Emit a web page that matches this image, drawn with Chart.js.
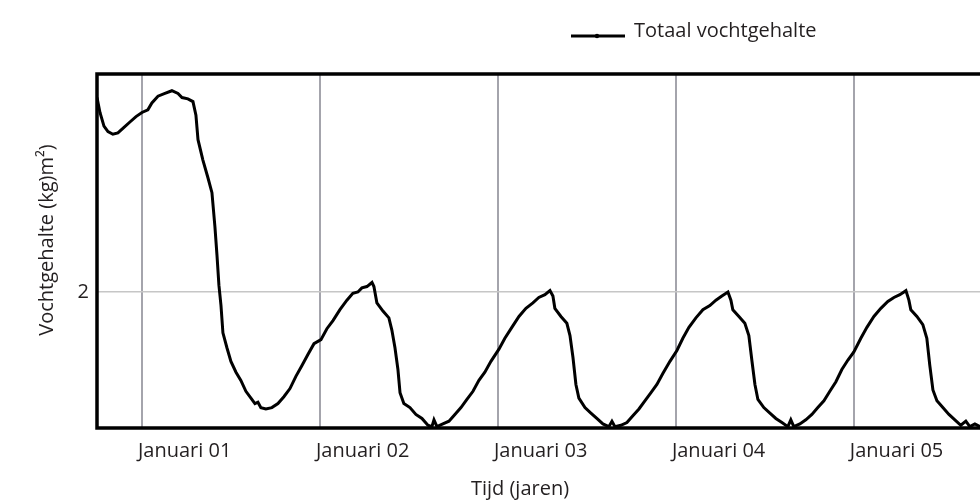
<!DOCTYPE html>
<html>
<head>
<meta charset="utf-8">
<script src="https://cdn.jsdelivr.net/npm/chart.js@4.4.1/dist/chart.umd.min.js"></script>
<style>
  html, body { margin: 0; padding: 0; background: #fff; overflow: hidden; }
  #wrap { width: 1010px; height: 502px; }
</style>
</head>
<body>
<div id="wrap"><canvas id="myChart"></canvas></div>
<script>
// time in months since "Januari 01"
const months = [
  -3.03, -2.83, -2.56, -2.29, -1.96, -1.62, -1.21, -0.81, -0.40, 0.00, 0.40, 0.67, 1.08, 1.55, 2.02, 2.43,
  2.70, 3.10, 3.44, 3.64, 3.78, 4.11, 4.45, 4.72, 4.92, 5.06, 5.19, 5.33, 5.46, 5.73, 6.00, 6.34,
  6.67, 7.01, 7.35, 7.62, 7.82, 8.02, 8.36, 8.76, 9.17, 9.57, 9.98, 10.38, 10.79, 11.19, 11.60, 12.07,
  12.47, 12.88, 13.35, 13.82, 14.22, 14.56, 14.83, 15.17, 15.51, 15.64, 15.84, 16.25, 16.65, 16.85, 17.06, 17.26, 17.40,
  17.66, 18.07, 18.47, 18.88, 19.28, 19.55, 19.69, 19.89, 20.29, 20.70, 21.10, 21.51, 21.91, 22.32, 22.72, 23.12, 23.53, 24.07,
  24.47, 24.94, 25.42, 25.89, 26.36, 26.76, 27.17, 27.51, 27.71, 27.84, 28.25, 28.65, 28.86, 29.06, 29.26, 29.46,
  29.87, 30.27, 30.67, 31.08, 31.48, 31.69, 31.89, 32.29, 32.70, 33.10, 33.51, 33.91, 34.32, 34.72, 35.12, 35.60, 36.07,
  36.47, 36.88, 37.35, 37.82, 38.29, 38.70, 39.10, 39.51, 39.71, 39.84, 40.25, 40.65, 40.92, 41.12, 41.33, 41.53,
  41.93, 42.34, 42.74, 43.15, 43.55, 43.75, 43.95, 44.36, 44.76, 45.17, 45.57, 45.98, 46.38, 46.79, 47.19, 47.60, 48.00,
  48.47, 48.88, 49.35, 49.82, 50.29, 50.70, 51.10, 51.51, 51.71, 51.84, 52.25, 52.65, 52.92, 53.12, 53.33, 53.60,
  54.00, 54.41, 54.81, 55.21, 55.55, 55.82, 56.16, 56.50, 57.17, 57.80, 58.30
];
// total moisture content (kg/m2)
const moisture = [
  3.43, 3.32, 3.22, 3.18, 3.16, 3.17, 3.21, 3.25, 3.29, 3.32, 3.34, 3.39, 3.44, 3.46, 3.48, 3.46,
  3.43, 3.42, 3.40, 3.30, 3.12, 2.97, 2.84, 2.73, 2.48, 2.27, 2.05, 1.90, 1.70, 1.59, 1.49, 1.41,
  1.35, 1.27, 1.22, 1.18, 1.19, 1.15, 1.14, 1.15, 1.18, 1.23, 1.29, 1.38, 1.46, 1.54, 1.62, 1.65,
  1.73, 1.79, 1.87, 1.94, 1.99, 2.00, 2.03, 2.04, 2.07, 2.04, 1.92, 1.86, 1.81, 1.72, 1.59, 1.43, 1.26,
  1.18, 1.15, 1.10, 1.07, 1.02, 1.01, 1.06, 1.01, 1.03, 1.05, 1.10, 1.15, 1.21, 1.27, 1.35, 1.41, 1.49, 1.58,
  1.66, 1.74, 1.82, 1.88, 1.92, 1.96, 1.98, 2.01, 1.97, 1.88, 1.82, 1.77, 1.68, 1.52, 1.32, 1.22,
  1.15, 1.11, 1.07, 1.03, 1.01, 1.05, 1.01, 1.02, 1.04, 1.09, 1.14, 1.20, 1.26, 1.32, 1.40, 1.49, 1.57,
  1.66, 1.74, 1.81, 1.87, 1.90, 1.94, 1.97, 2.00, 1.94, 1.87, 1.82, 1.77, 1.68, 1.50, 1.32, 1.21,
  1.15, 1.11, 1.07, 1.04, 1.01, 1.06, 1.01, 1.03, 1.06, 1.10, 1.15, 1.20, 1.27, 1.34, 1.43, 1.50, 1.56,
  1.66, 1.74, 1.82, 1.88, 1.93, 1.96, 1.98, 2.01, 1.94, 1.87, 1.82, 1.76, 1.66, 1.46, 1.28, 1.20,
  1.15, 1.10, 1.06, 1.02, 1.05, 1.01, 1.03, 1.01, 1.03, 1.02, 1.03
];
const xTicks = [0, 12, 24, 36, 48];
const xLabels = ['Januari 01', 'Januari 02', 'Januari 03', 'Januari 04', 'Januari 05'];
const yTicks = [2];

const font = { family: "'Open Sans', sans-serif", size: 20 };
const textColor = '#231f20';

const frame = {
  id: 'frame',
  afterDraw(chart) {
    const { ctx, chartArea: a } = chart;
    ctx.save();
    ctx.strokeStyle = '#000';
    ctx.lineWidth = 3.5;
    ctx.strokeRect(a.left, a.top, a.right - a.left, a.bottom - a.top);

    // legend
    ctx.lineWidth = 3;
    ctx.beginPath();
    ctx.moveTo(571, 36);
    ctx.lineTo(625, 36);
    ctx.stroke();
    ctx.beginPath();
    ctx.arc(597, 36, 2.2, 0, Math.PI * 2);
    ctx.fillStyle = '#000';
    ctx.fill();
    ctx.fillStyle = textColor;
    ctx.font = "20px 'Open Sans', sans-serif";
    ctx.textBaseline = 'middle';
    ctx.textAlign = 'left';
    ctx.fillText('Totaal vochtgehalte', 634, 31);

    // axis titles
    ctx.textAlign = 'center';
    ctx.fillText('Tijd (jaren)', 520, 489);
    ctx.translate(47, 240);
    ctx.rotate(-Math.PI / 2);
    ctx.fillText('Vochtgehalte (kg)m²)', 0, 0);
    ctx.restore();
  }
};

new Chart(document.getElementById('myChart'), {
  type: 'line',
  data: {
    datasets: [{
      label: 'Totaal vochtgehalte',
      data: months.map((m, i) => ({ x: m, y: moisture[i] })),
      borderColor: '#000',
      borderWidth: 3,
      pointRadius: 0,
      tension: 0,
      fill: false
    }]
  },
  options: {
    responsive: true,
    maintainAspectRatio: false,
    animation: false,
    layout: { padding: { top: 74, right: 5, left: 0, bottom: 0 } },
    plugins: {
      legend: { display: false },
      tooltip: { enabled: false }
    },
    scales: {
      x: {
        type: 'linear',
        min: -3.03,
        max: 58.19,
        afterBuildTicks: (scale) => { scale.ticks = xTicks.map(v => ({ value: v })); },
        afterFit: (scale) => { scale.height = 74; },
        ticks: {
          color: textColor,
          font: font,
          padding: 11,
          align: 'start',
          labelOffset: -4,
          maxRotation: 0,
          callback: (value) => xLabels[xTicks.indexOf(value)]
        },
        grid: { color: '#a4a4ac', lineWidth: 2, drawTicks: false },
        border: { display: false }
      },
      y: {
        min: 1,
        max: 3.603,
        afterBuildTicks: (scale) => { scale.ticks = yTicks.map(v => ({ value: v })); },
        afterFit: (scale) => { scale.width = 97; },
        ticks: { color: textColor, font: font, padding: 8 },
        grid: { color: '#c6c6c6', lineWidth: 1.5, drawTicks: false },
        border: { display: false }
      }
    }
  },
  plugins: [frame]
});
</script>
</body>
</html>
